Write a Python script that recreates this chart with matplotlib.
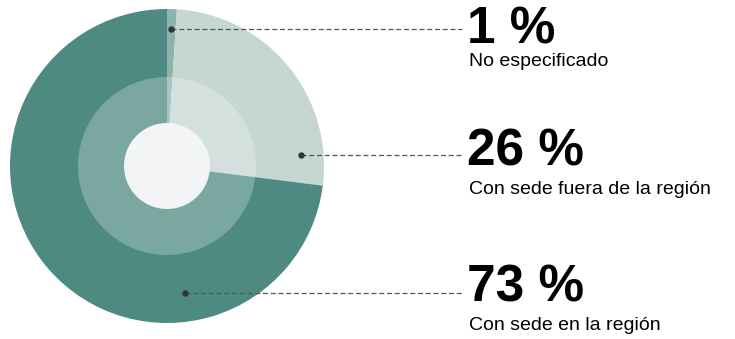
import matplotlib.pyplot as plt
from matplotlib.patches import Circle

plt.rcParams['font.family'] = ['Liberation Sans', 'DejaVu Sans']

categorias = ['No especificado', 'Con sede fuera de la región', 'Con sede en la región']
porcentajes = [1, 26, 73]
colores = ['#8db3ad', '#c6d6d3', '#4e8a81']

H = 339
fig = plt.figure(figsize=(7.35, 3.39), dpi=100)
ax = fig.add_axes([0, 0, 1, 1])

# anillo exterior
cx, cy = 167, H - 166
ax.pie(porcentajes, colors=colores, startangle=90, counterclock=False,
       center=(cx, cy), radius=157, frame=True,
       wedgeprops=dict(linewidth=0))
ax.set_xlim(0, 735)
ax.set_ylim(0, H)
ax.set_aspect('equal')
ax.axis('off')

# anillo interior más claro y centro
ax.add_patch(Circle((cx, cy), 89, facecolor='white', alpha=0.25, lw=0))
ax.add_patch(Circle((cx, cy), 43, facecolor='#f2f4f6', lw=0))

# etiquetas con línea guía (posiciones en píxeles desde arriba)
puntos = [(171, 29), (301, 155), (185, 293)]
base_num = [43, 165, 302]
base_txt = [66, 194, 330]
for (px, py), bn, bt, pct, cat in zip(puntos, base_num, base_txt, porcentajes, categorias):
    ax.plot([px, 462], [H - py, H - py], ls=(0, (4, 2.2)), color='#555555', lw=0.9)
    ax.plot(px, H - py, 'o', color='#333333', ms=3.6)
    ax.text(467, H - bn, f'{pct} %', fontsize=37, fontweight='bold',
            va='baseline', ha='left', color='black')
    ax.text(469.5, H - bt, cat, fontsize=14, va='baseline', ha='left', color='black')

fig.savefig('out.png', dpi=100)
